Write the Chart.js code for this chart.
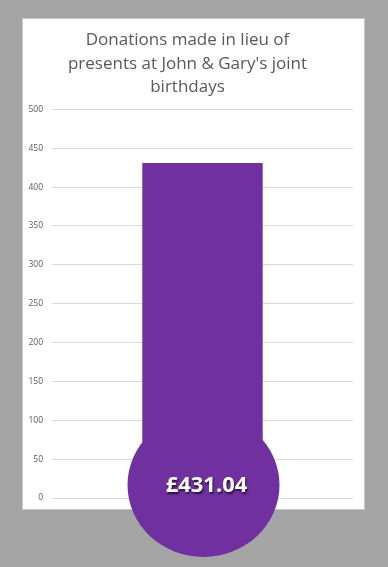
<!DOCTYPE html>
<html>
<head>
<meta charset="utf-8">
<script src="https://cdn.jsdelivr.net/npm/chart.js@4/dist/chart.umd.min.js"></script>
<style>
  html, body { margin: 0; padding: 0; background: #a5a5a5; }
  #wrap { width: 388px; height: 567px; position: relative; }
</style>
</head>
<body>
<div id="wrap"><canvas id="c" width="388" height="567"></canvas></div>
<script>
// Fundraising thermometer: one bar plus a round bulb at its base.
const titleLines = ['Donations made in lieu of', "presents at John & Gary's joint", 'birthdays'];
const categories = ['Donations'];
const donationTotals = [431.04];
const axisMin = 0;
const axisMax = 500;
const axisStep = 50;

const purple = '#7030a0';
const textGrey = '#595959';

// Grey backdrop with the white card behind the chart.
const cardPlugin = {
  id: 'card',
  beforeDraw(chart) {
    const ctx = chart.ctx;
    ctx.save();
    ctx.fillStyle = '#a5a5a5';
    ctx.fillRect(0, 0, chart.width, chart.height);
    ctx.fillStyle = '#ffffff';
    ctx.fillRect(22, 18, 343, 492);
    ctx.strokeStyle = '#c8c8c8';
    ctx.lineWidth = 1;
    ctx.strokeRect(22.5, 18.5, 342, 491);
    ctx.restore();
  }
};

// Bulb of the thermometer with the total written inside it.
const bulbPlugin = {
  id: 'bulb',
  afterDatasetsDraw(chart) {
    const bar = chart.getDatasetMeta(0).data[0];
    const y = chart.scales.y;
    const ctx = chart.ctx;
    const cx = bar.x + 1;
    const cy = y.getPixelForValue(axisMin) - 13;
    ctx.save();
    ctx.fillStyle = purple;
    ctx.beginPath();
    ctx.ellipse(cx, cy, 76, 72, 0, 0, Math.PI * 2);
    ctx.fill();
    const label = '£' + donationTotals[0].toFixed(2);
    ctx.font = 'bold 22px "Open Sans", sans-serif';
    ctx.textAlign = 'center';
    ctx.textBaseline = 'middle';
    ctx.shadowColor = 'rgba(0,0,0,0.65)';
    ctx.shadowOffsetX = 1;
    ctx.shadowOffsetY = 2;
    ctx.shadowBlur = 2;
    ctx.fillStyle = '#ffffff';
    ctx.fillText(label, cx + 3, cy + 1);
    ctx.restore();
  }
};

new Chart(document.getElementById('c'), {
  type: 'bar',
  data: {
    labels: categories,
    datasets: [{
      data: donationTotals,
      backgroundColor: purple,
      borderWidth: 0,
      barPercentage: 1,
      categoryPercentage: 0.4
    }]
  },
  options: {
    responsive: false,
    animation: false,
    devicePixelRatio: 1,
    layout: { padding: { left: 22, right: 35, top: 18, bottom: 69 } },
    plugins: {
      legend: { display: false },
      tooltip: { enabled: false },
      title: {
        display: true,
        text: titleLines,
        color: textGrey,
        font: { family: '"Open Sans", sans-serif', size: 17, weight: 'normal', lineHeight: 1.4 },
        padding: { top: 10, bottom: 10 }
      }
    },
    scales: {
      x: { display: false },
      y: {
        min: axisMin,
        max: axisMax,
        afterFit(scale) { scale.width = 30; },
        ticks: {
          stepSize: axisStep,
          color: textGrey,
          padding: 9,
          font: { family: '"Open Sans", sans-serif', size: 8.5 }
        },
        grid: { color: '#d9d9d9', drawTicks: false, lineWidth: 1 },
        border: { display: false }
      }
    }
  },
  plugins: [cardPlugin, bulbPlugin]
});
</script>
</body>
</html>
